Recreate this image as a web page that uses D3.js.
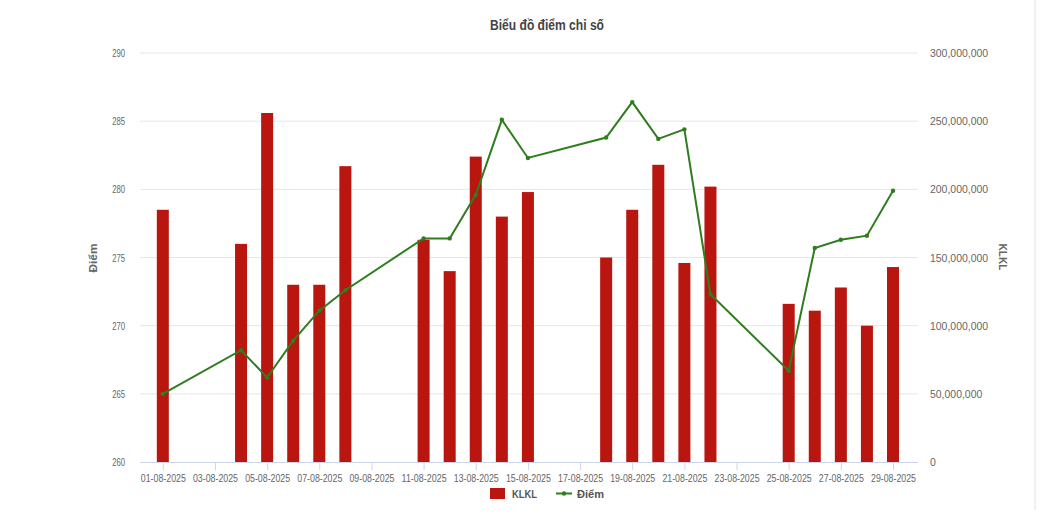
<!DOCTYPE html>
<html>
<head>
<meta charset="utf-8">
<script src="https://cdn.jsdelivr.net/npm/d3@7"></script>
<style>
  body { margin: 0; background: #fff; }
  svg { display: block; font-family: "Liberation Sans", Arial, sans-serif; }
</style>
</head>
<body>
<svg id="svg0" width="1039" height="517"></svg>
<script>
// ngày giao dịch (tháng 8/2025)
var days = [1, 4, 5, 6, 7, 8, 11, 12, 13, 14, 15, 18, 19, 20, 21, 22, 25, 26, 27, 28, 29];
// khối lượng khớp lệnh
var klkl = [185e6, 160e6, 256e6, 130e6, 130e6, 217e6, 163e6, 140e6, 224e6, 180e6, 198e6,
            150e6, 185e6, 218e6, 146e6, 202e6, 116e6, 111e6, 128e6, 100e6, 143e6];
// điểm chỉ số
var diem = [265.0, 268.2, 266.2, 268.9, 271.1, 272.6, 276.4, 276.4, 279.6, 285.1, 282.3,
            283.8, 286.4, 283.7, 284.4, 272.3, 266.7, 275.7, 276.3, 276.6, 279.9];

var leftTicks = [260, 265, 270, 275, 280, 285, 290];
var rightTicks = [0, 50e6, 100e6, 150e6, 200e6, 250e6, 300e6];

var svg = d3.select('#svg0');

var plotLeft = 140, plotRight = 918, plotTop = 53, plotBottom = 462;

var x = d3.scaleTime()
    .domain([new Date(2025, 6, 31, 3), new Date(2025, 7, 29, 23)])
    .range([plotLeft, plotRight]);
var yL = d3.scaleLinear().domain([260, 290]).range([plotBottom, plotTop]);
var yR = d3.scaleLinear().domain([0, 300e6]).range([plotBottom, plotTop]);

var dates = days.map(function (d) { return new Date(2025, 7, d); });

// the labels in the picture are a narrow face, squeeze ours a bit
function condense(sel, f) {
    sel.each(function () {
        var w = this.getComputedTextLength();
        d3.select(this).attr('textLength', w * f).attr('lengthAdjust', 'spacingAndGlyphs');
    });
}

// right border of the screenshot
svg.append('line')
    .attr('x1', 1035).attr('x2', 1035).attr('y1', 0).attr('y2', 510)
    .attr('stroke', '#e2e2e2').attr('stroke-width', 1);

// title
var title = svg.append('text')
    .attr('x', 547).attr('y', 30)
    .attr('text-anchor', 'middle')
    .attr('font-size', 14).attr('font-weight', 'bold')
    .attr('fill', '#444')
    .text('Biểu đồ điểm chỉ số');
title.attr('textLength', 114).attr('lengthAdjust', 'spacingAndGlyphs');

// grid
svg.append('g').selectAll('line')
    .data(leftTicks.slice(1))
    .enter().append('line')
    .attr('x1', plotLeft).attr('x2', plotRight)
    .attr('y1', function (d) { return yL(d); })
    .attr('y2', function (d) { return yL(d); })
    .attr('stroke', '#e6e6e6').attr('stroke-width', 1);

// left axis labels
svg.append('g').selectAll('text')
    .data(leftTicks)
    .enter().append('text')
    .attr('x', 125)
    .attr('y', function (d) { return yL(d) + 4; })
    .attr('text-anchor', 'end')
    .attr('font-size', 11).attr('fill', '#666')
    .text(function (d) { return d; })
    .call(condense, 0.7);

// right axis labels
svg.append('g').selectAll('text')
    .data(rightTicks)
    .enter().append('text')
    .attr('x', 930)
    .attr('y', function (d) { return yR(d) + 4; })
    .attr('font-size', 11).attr('fill', '#666')
    .text(function (d) { return d3.format(',')(d); })
    .call(condense, 0.95);

// axis titles
svg.append('text')
    .attr('transform', 'translate(97,258) rotate(-90)')
    .attr('text-anchor', 'middle')
    .attr('font-size', 11).attr('font-weight', 'bold').attr('fill', '#666')
    .text('Điểm')
    .attr('textLength', 29).attr('lengthAdjust', 'spacingAndGlyphs');
svg.append('text')
    .attr('transform', 'translate(999,257) rotate(90)')
    .attr('text-anchor', 'middle')
    .attr('font-size', 11).attr('font-weight', 'bold').attr('fill', '#666')
    .text('KLKL')
    .attr('textLength', 27).attr('lengthAdjust', 'spacingAndGlyphs');

// x axis
var xAxis = d3.axisBottom(x)
    .ticks(d3.timeDay.every(2))
    .tickFormat(d3.timeFormat('%d-%m-%Y'))
    .tickSize(8)
    .tickPadding(4);

var gx = svg.append('g')
    .attr('transform', 'translate(0,' + plotBottom + ')')
    .call(xAxis)
    .attr('font-family', null);
gx.select('.domain').attr('stroke', '#ccd6eb').attr('d', 'M' + plotLeft + ',0.5H' + plotRight);
gx.selectAll('.tick line').attr('stroke', '#ccd6eb');
gx.selectAll('.tick text')
    .attr('font-size', 11).attr('fill', '#666')
    .attr('textLength', 45).attr('lengthAdjust', 'spacingAndGlyphs');

// bars
var barW = 12;
svg.append('g').selectAll('rect')
    .data(dates)
    .enter().append('rect')
    .attr('x', function (d) { return x(d) - barW / 2; })
    .attr('y', function (d, i) { return yR(klkl[i]); })
    .attr('width', barW)
    .attr('height', function (d, i) { return plotBottom - yR(klkl[i]); })
    .attr('fill', '#b8160f');

// line
var line = d3.line()
    .x(function (d) { return x(d); })
    .y(function (d, i) { return yL(diem[i]); });

svg.append('path')
    .datum(dates)
    .attr('d', line)
    .attr('fill', 'none')
    .attr('stroke', '#2f7d1f')
    .attr('stroke-width', 2);

svg.append('g').selectAll('circle')
    .data(dates)
    .enter().append('circle')
    .attr('cx', function (d) { return x(d); })
    .attr('cy', function (d, i) { return yL(diem[i]); })
    .attr('r', 2.2)
    .attr('fill', '#2f7d1f');

// legend
var lg = svg.append('g');
lg.append('rect')
    .attr('x', 490).attr('y', 488).attr('width', 15).attr('height', 11)
    .attr('fill', '#b8160f');
lg.append('text')
    .attr('x', 512).attr('y', 498)
    .attr('font-size', 11).attr('font-weight', 'bold').attr('fill', '#555')
    .text('KLKL')
    .attr('textLength', 25).attr('lengthAdjust', 'spacingAndGlyphs');
lg.append('line')
    .attr('x1', 556).attr('x2', 572).attr('y1', 493.5).attr('y2', 493.5)
    .attr('stroke', '#2f7d1f').attr('stroke-width', 2);
lg.append('circle')
    .attr('cx', 564).attr('cy', 493.5).attr('r', 2.2)
    .attr('fill', '#2f7d1f');
lg.append('text')
    .attr('x', 577).attr('y', 498)
    .attr('font-size', 11).attr('font-weight', 'bold').attr('fill', '#555')
    .text('Điểm')
    .attr('textLength', 27).attr('lengthAdjust', 'spacingAndGlyphs');
</script>
</body>
</html>
